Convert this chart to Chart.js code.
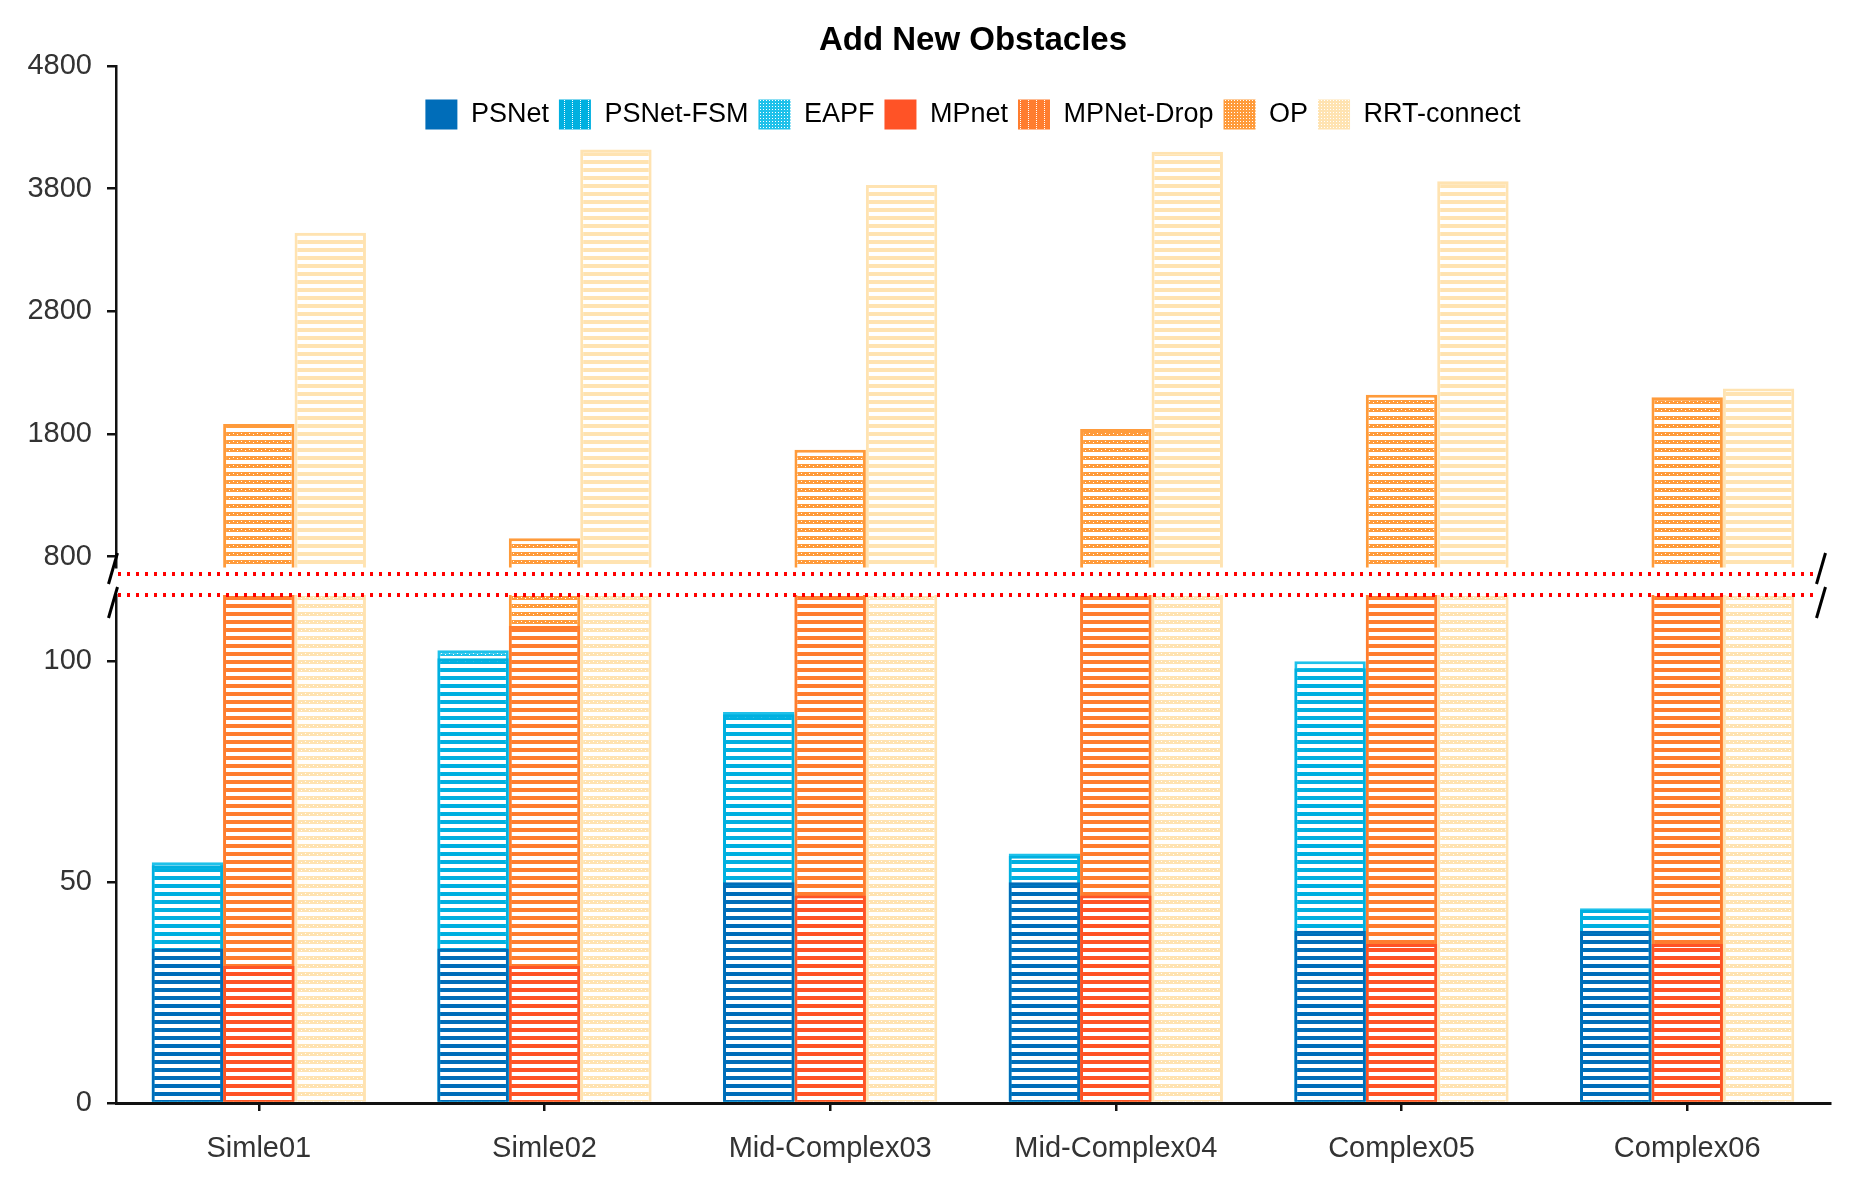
<!DOCTYPE html>
<html>
<head>
<meta charset="utf-8">
<script src="https://cdn.jsdelivr.net/npm/chart.js@4.4.1/dist/chart.umd.min.js"></script>
<style>
  body { margin: 0; background: #fff; }
  #wrap { position: relative; width: 1862px; height: 1188px; }
  #wrap canvas { position: absolute; left: 0; }
</style>
</head>
<body>
<div id="wrap">
  <canvas id="chart_upper" width="1862" height="600" style="top:0"></canvas>
  <canvas id="chart_lower" width="1862" height="648" style="top:540px"></canvas>
  <canvas id="chart_legend" width="1862" height="220" style="top:0"></canvas>
</div>
<script>
// data (lower axis 0-115, upper axis 710-4800)
const categories = ["Simle01", "Simle02", "Mid-Complex03", "Mid-Complex04", "Complex05", "Complex06"];
const psnet     = [35, 35, 50, 50, 39, 39];
const psnetFsm  = [53.8, 100.7, 88, 56, 98.4, 43.7];
const eapf      = [54.5, 102.5, 88.5, 56.5, 100, 44.1];
const mpnet     = [31, 31, 47, 47, 36, 36];
const mpnetDrop = [320, 108, 380, 360, 420, 430];
const op        = [1880, 950, 1670, 1840, 2120, 2100];
const rrt       = [3440, 4120, 3830, 4100, 3860, 2170];
const upperTicks = [800, 1800, 2800, 3800, 4800];
const lowerTicks = [0, 50, 100];

const seriesNames = ["PSNet", "PSNet-FSM", "EAPF", "MPnet", "MPNet-Drop", "OP", "RRT-connect"];
const seriesData = [psnet, psnetFsm, eapf, mpnet, mpnetDrop, op, rrt];
const seriesStack = ["a", "a", "a", "b", "b", "b", "c"];
const seriesColor = ["#006DB9", "#00B0E0", "#1EC1EA", "#FF5326", "#FF7D2F", "#FF9B3B", "#FFE3B1"];

Chart.defaults.font.family = "'Liberation Sans', Arial, sans-serif";
Chart.defaults.animation = false;

// horizontal hatch, optionally with little dots in the colored band
function stripes(color, dots){
	const c = document.createElement("canvas");
	c.width = 8; c.height = 8;
	const g = c.getContext("2d");
	g.fillStyle = "#fff"; g.fillRect(0, 0, 8, 8);
	g.fillStyle = color; g.fillRect(0, 0, 8, 4);
	if(dots){
		g.fillStyle = "#fff";
		g.fillRect(1, 1, 1, 1);
		g.fillRect(5, 2, 1, 1);
	}
	return g.createPattern(c, "repeat");
}
function vlines(color){
	const c = document.createElement("canvas");
	c.width = 8; c.height = 4;
	const g = c.getContext("2d");
	g.fillStyle = color; g.fillRect(0, 0, 8, 4);
	g.fillStyle = "#fff"; g.fillRect(4, 0, 1, 1); g.fillRect(4, 2, 1, 1);
	return g.createPattern(c, "repeat");
}
function dotgrid(color){
	const c = document.createElement("canvas");
	c.width = 3; c.height = 3;
	const g = c.getContext("2d");
	g.fillStyle = color; g.fillRect(0, 0, 3, 3);
	g.fillStyle = "#fff"; g.fillRect(1, 1, 1, 1);
	return g.createPattern(c, "repeat");
}

function barSets(upper){
	return seriesNames.map(function(name, i){
		let dotted = (i === 2 || i === 5);
		if(i === 6) dotted = !upper;
		return {
			label: name,
			data: seriesData[i],
			stack: seriesStack[i],
			backgroundColor: stripes(seriesColor[i], dotted),
			borderColor: seriesColor[i],
			borderWidth: 3,
		};
	});
}

const tickFont = { size: 29 };
function yAxis(min, max, ticks){
	return {
		stacked: false,
		min: min,
		max: max,
		afterBuildTicks: function(s){ s.ticks = ticks.map(v => ({ value: v })); },
		afterFit: function(s){ s.width = 116; },
		grid: { display: true, drawOnChartArea: false, tickLength: 9, color: "#111", lineWidth: 2.5 },
		border: { display: true, color: "#111", width: 2.5 },
		ticks: { font: tickFont, color: "#333", padding: 15, callback: v => String(v) },
	};
}

// red dotted break lines and the slashes on both sides
const breakMarks = {
	id: "breakMarks",
	afterDraw(chart){
		const ctx = chart.ctx;
		const a = chart.chartArea;
		ctx.save();
		ctx.strokeStyle = "#ff0000";
		ctx.lineWidth = 4;
		ctx.setLineDash([3, 6]);
		[a.top - 21, a.top].forEach(function(y){
			ctx.beginPath();
			ctx.moveTo(a.left + 2, y);
			ctx.lineTo(a.right - 12, y);
			ctx.stroke();
		});
		ctx.setLineDash([]);
		ctx.strokeStyle = "#000";
		ctx.lineWidth = 3;
		[a.left - 3, a.right - 9].forEach(function(x){
			[[a.top - 11, a.top - 42], [a.top + 23, a.top - 8]].forEach(function(s){
				ctx.beginPath();
				ctx.moveTo(x - 4.5, s[0]);
				ctx.lineTo(x + 4.5, s[1]);
				ctx.stroke();
			});
		});
		ctx.restore();
	}
};

const commonPlugins = { legend: { display: false }, tooltip: { enabled: false } };

const chart_upper_ctx = document.getElementById("chart_upper").getContext("2d");
const chart_upper = new Chart(chart_upper_ctx, {
	type: "bar",
	data: { labels: categories, datasets: barSets(true) },
	options: {
		responsive: false,
		devicePixelRatio: 1,
		layout: { padding: { top: 66, bottom: 27, left: 0, right: 32 } },
		datasets: { bar: { categoryPercentage: 0.75, barPercentage: 1.0 } },
		scales: {
			x: { stacked: true, display: false },
			y: yAxis(710, 4800, upperTicks),
		},
		plugins: commonPlugins,
	}
});

const chart_lower_ctx = document.getElementById("chart_lower").getContext("2d");
const chart_lower = new Chart(chart_lower_ctx, {
	type: "bar",
	data: { labels: categories, datasets: barSets(false) },
	options: {
		responsive: false,
		devicePixelRatio: 1,
		layout: { padding: { top: 55, bottom: 0, left: 0, right: 32 } },
		datasets: { bar: { categoryPercentage: 0.75, barPercentage: 1.0 } },
		scales: {
			x: {
				stacked: true,
				afterFit: function(s){ s.height = 85; },
				grid: { display: true, drawOnChartArea: false, offset: false, tickLength: 8, color: "#111", lineWidth: 2.5 },
				border: { display: true, color: "#111", width: 3 },
				ticks: { font: tickFont, color: "#333", padding: 21, maxRotation: 0, autoSkip: false },
			},
			y: yAxis(0, 115, lowerTicks),
		},
		plugins: commonPlugins,
	},
	plugins: [breakMarks]
});

// title and legend sit inside the plot area, so they get their own layer
const legendFills = [
	seriesColor[0], vlines(seriesColor[1]), dotgrid(seriesColor[2]),
	seriesColor[3], vlines(seriesColor[4]), dotgrid(seriesColor[5]), dotgrid(seriesColor[6])
];
const chart_legend_ctx = document.getElementById("chart_legend").getContext("2d");
const chart_legend = new Chart(chart_legend_ctx, {
	type: "bar",
	data: {
		labels: categories,
		datasets: seriesNames.map((name, i) => ({ label: name, data: [], backgroundColor: legendFills[i], borderWidth: 0 })),
	},
	options: {
		responsive: false,
		devicePixelRatio: 1,
		events: [],
		layout: { padding: { left: 116, right: 32 } },
		scales: { x: { display: false }, y: { display: false } },
		plugins: {
			tooltip: { enabled: false },
			title: {
				display: true,
				fullSize: false,
				text: "Add New Obstacles",
				color: "#000",
				font: { size: 33, weight: "bold" },
				padding: { top: 21, bottom: 29 },
			},
			legend: {
				display: true,
				fullSize: false,
				position: "top",
				labels: { boxWidth: 32, boxHeight: 30, padding: 10, color: "#000", font: { size: 27 } },
			},
		},
	}
});
</script>
</body>
</html>
